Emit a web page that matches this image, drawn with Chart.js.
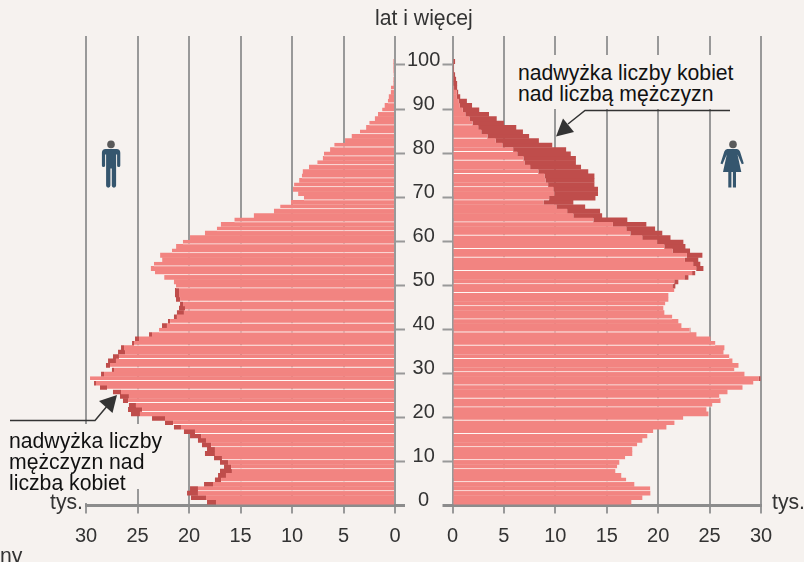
<!DOCTYPE html>
<html lang="pl">
<head>
<meta charset="utf-8">
<title>Ludność według wieku</title>
<script src="https://cdn.jsdelivr.net/npm/chart.js@4"></script>
<style>
  html, body { margin: 0; padding: 0; background: #f6f2ef; }
  #wrap { position: relative; width: 804px; height: 562px; overflow: hidden; font-family: "Liberation Sans", Arial, sans-serif; color: #222; }
  #wrap canvas { position: absolute; left: 0; top: 0; }
  .txt { position: absolute; font-size: 21.2px; line-height: 21px; white-space: pre; background: #f6f2ef; }
  svg { position: absolute; left: 0; top: 0; }
</style>
</head>
<body>
<div id="wrap">
  <canvas id="left" width="804" height="562"></canvas>
  <canvas id="right" width="804" height="562"></canvas>
  <div class="txt" style="left:375px;top:7px;color:#333">lat i więcej</div>
  <div class="txt" style="left:7px;top:424px;padding:6px 2px 0;height:59px;color:#111">nadwyżka liczby
mężczyzn nad
liczbą kobiet</div>
  <div class="txt" style="left:48px;top:491px;padding:0 4px 0 2px;height:12px;line-height:22px;overflow:visible;color:#333">tys.</div>
  <div class="txt" style="left:516px;top:55px;padding:7px 4px 0 2px;height:47px;color:#111">nadwyżka liczby kobiet
nad liczbą mężczyzn</div>
  <div class="txt" style="left:772px;top:491px;background:none;color:#333">tys.</div>
  <div class="txt" style="left:0;top:545px;background:none;color:#333">ny</div>
  <svg width="804" height="562">
    <!-- strzalki -->
    <polyline points="10,420.5 95,420.5 108,405" fill="none" stroke="#333" stroke-width="1.5"/>
    <polygon points="117,395 112.5,413 99,401" fill="#333"/>
    <polyline points="730,110.5 585,110.5 568,124" fill="none" stroke="#333" stroke-width="1.5"/>
    <polygon points="556,136.5 563,118.5 574,132" fill="#333"/>
    <!-- mezczyzna -->
    <circle cx="111" cy="144.4" r="3.8" fill="#5a5a5a"/>
    <path d="M105.500 149h11q3.800 0 3.800 3.800v12.700a1.600 1.600 0 0 1-3.200 0v-11h-1v31a2.100 2.100 0 0 1-4.300 0v-17h-1.400v17a2.100 2.100 0 0 1-4.300 0v-31h-1v11a1.600 1.600 0 0 1-3.200 0v-12.700q0-3.800 3.800-3.800z" fill="#35566e"/>
    <!-- kobieta -->
    <circle cx="733" cy="144.4" r="3.800" fill="#5a5a5a"/>
    <path d="M729 149h8q2 0 3 2.500l3.800 12-2 .8-4.300-9.800 3.800 17.500h-5.300v15.500h-3.100v-15.500h-1.500v15.500h-3.100v-15.500h-5.300l3.800-17.500-4.300 9.800-2-.8 3.800-12q1-2.500 3-2.500z" fill="#35566e"/>
  </svg>
</div>
<script>
// wiek 0..100 (tys.)
const ages = Array.from({length: 101}, (_, i) => i);

const menAll = [
  18.25,19.81,20.19,19.9,18.54,17.48,17.18,16.99,16.6,16.99,
  17.57,18.45,18.25,18.74,19.13,19.9,20.49,21.46,22.33,23.59,
  25.63,25.92,25.83,26.41,26.7,27.38,28.64,29.22,29.61,28.54,
  27.48,28.06,27.86,27.38,26.89,26.6,25.53,25.24,23.88,22.91,
  22.62,22.04,21.46,21.17,20.97,20.87,21.26,21.36,21.36,21.26,
  21.46,22.4,23.3,23.7,23.4,22.6,22.8,21.65,21.25,20.6,
  19.9,18.45,17.3,16.9,15.6,13.7,11.75,11.15,10.1,8.85,
  9.4,9.9,9.8,9.3,9.05,8.95,8.35,7.55,7.0,6.9,
  6.3,5.9,4.85,4.2,3.4,2.8,2.5,1.95,1.65,1.25,
  1.0,0.7,0.6,0.4,0.4,0.15,0.15,0.15,0.15,0.15,0.15
];
// czesc wspolna po lewej (reszta to nadwyzka mezczyzn)
const menCommon = [
  17.38,18.35,19.13,19.13,17.67,16.89,16.41,15.83,15.92,16.21,
  16.8,17.48,17.48,17.86,18.35,18.83,19.42,20.78,21.55,22.33,
  24.76,24.56,25.15,25.92,25.83,26.6,27.96,29.03,29.61,28.25,
  27.28,27.67,27.09,26.8,26.21,26.31,25.34,24.85,23.59,22.91,
  22.14,21.84,21.17,20.49,20.39,20.58,20.87,20.97,20.97,21.26,
  21.46,22.4,23.3,23.7,23.4,22.6,22.8,21.65,21.25,20.6,
  19.9,18.45,17.3,16.9,15.6,13.7,11.75,11.15,10.1,8.85,
  9.4,9.9,9.8,9.3,9.05,8.95,8.35,7.55,7.0,6.9,
  6.3,5.9,4.85,4.2,3.4,2.8,2.5,1.95,1.65,1.25,
  1.0,0.7,0.6,0.4,0.4,0.15,0.15,0.15,0.15,0.15,0.15
];
const womenAll = [
  17.39,18.46,19.24,19.24,17.68,16.9,16.41,15.83,16.02,16.22,
  16.8,17.48,17.48,17.97,18.46,18.94,19.53,20.8,21.58,22.45,
  24.89,24.69,25.28,26.06,25.96,26.74,28.2,29.27,29.95,28.39,
  27.42,27.81,27.22,26.93,26.35,26.44,25.57,25.08,23.72,23.13,
  22.26,21.96,21.38,20.6,20.5,20.7,20.99,20.99,21.58,21.67,
  21.96,22.94,23.6,24.4,24.1,23.9,24.3,23.1,22.65,22.45,
  21.2,20.4,19.7,18.85,17.0,14.55,14.35,12.9,11.75,13.9,
  14.15,14.15,13.8,13.8,13.8,13.2,12.5,12.0,12.0,11.5,
  11.05,9.7,8.4,7.45,6.85,6.2,5.0,4.3,3.55,2.6,
  1.9,1.4,0.75,0.55,0.45,0.45,0.35,0.25,0.15,0.15,0.25
];
// czesc wspolna po prawej (reszta to nadwyzka kobiet)
const womenCommon = [
  17.39,18.46,19.24,19.24,17.68,16.9,16.41,15.83,16.02,16.22,
  16.8,17.48,17.48,17.97,18.46,18.94,19.53,20.8,21.58,22.45,
  24.89,24.69,25.28,26.06,25.96,26.74,28.2,29.27,29.76,28.39,
  27.42,27.81,27.22,26.93,26.35,26.44,25.57,25.08,23.72,23.07,
  22.26,21.96,21.38,20.6,20.5,20.7,20.99,20.99,21.58,21.38,
  21.57,22.55,23.3,23.7,23.4,22.6,22.8,21.4,20.6,19.9,
  18.45,17.3,16.9,15.6,13.7,11.75,11.15,10.1,8.85,9.4,
  9.9,9.8,9.3,9.05,8.95,8.35,7.55,7.0,6.9,6.3,
  5.9,4.85,4.2,3.4,2.8,2.5,1.95,1.65,1.25,1.0,
  0.7,0.6,0.4,0.4,0.15,0.1,0.1,0.1,0.1,0.1,0.1
];

const xTicks = [0, 5, 10, 15, 20, 25, 30];
// pod ktorymi paskami jest przerwa
const gapsLeft = [3,5,8,10,13,16,18,21,23,26,28,31,33,36,39,41,44,46,49,52,54,57,59,62,64,67,69,72,74,77,79,81,84,86,89,91,94,97];
const gapsRight = [3,5,8,10,13,16,19,22,24,27,30,33,36,39,42,45,48,50,53,56,58,61,64,69,72,75,78,80,83,86];

const PINK = '#f28481', DARK = '#bf4d4b', GRID = '#999999', AXIS = '#8c8c8c', INK = '#333333';
const GAP_COLOR = '#fff8f5';
const BAR_SHIFT = 0.8;   // pasek siedzi troche nad kreska wieku
const Y_TOP = 106.58;

function rows(values) {
  return ages.map((a, i) => ({x: values[i], y: a + BAR_SHIFT}));
}
function excess(common, all) {
  return ages.map((a, i) => ({x: [common[i], all[i]], y: a + BAR_SHIFT}));
}
function isZero(c) {
  return c.tick && c.tick.value === 0;
}

function pyramid(id, opts) {
  return new Chart(document.getElementById(id), {
    type: 'bar',
    data: {
      datasets: [
        {
          data: rows(opts.common),
          backgroundColor: PINK,
          borderColor: GAP_COLOR,
          borderSkipped: false,
          borderWidth: ctx => opts.gaps.includes(ctx.dataIndex) ? {bottom: 1} : 0
        },
        {data: excess(opts.common, opts.all), backgroundColor: DARK, borderWidth: 0}
      ]
    },
    options: {
      indexAxis: 'y',
      responsive: false,
      animation: false,
      events: [],
      grouped: false,
      barPercentage: 1.1,
      categoryPercentage: 1,
      layout: {padding: opts.padding},
      plugins: {legend: {display: false}, tooltip: {enabled: false}},
      scales: {
        x: {
          type: 'linear',
          reverse: opts.reverse,
          min: 0, max: 30,
          afterFit: s => { s.height = 56.5; },
          afterBuildTicks: s => { s.ticks = xTicks.map(v => ({value: v})); },
          border: {display: true, color: AXIS, width: 3},
          grid: {color: GRID, lineWidth: 2, tickLength: 8, tickColor: GRID, tickWidth: 2},
          ticks: {color: INK, font: {family: '"Liberation Sans"', size: 20}, padding: 11, maxRotation: 0}
        },
        y: {
          type: 'linear',
          position: opts.yPos,
          offset: false,
          min: 0, max: Y_TOP,
          afterFit: s => { s.width = opts.yWidth; },
          border: {display: false},
          grid: {
            offset: false,
            drawOnChartArea: false,
            tickLength: 10,
            tickColor: c => isZero(c) ? AXIS : GRID,
            tickWidth: c => isZero(c) ? 3 : 2
          },
          ticks: {
            stepSize: 10,
            includeBounds: false,
            autoSkip: false,
            display: opts.labels,
            crossAlign: 'center',
            labelOffset: -5,
            padding: 2,
            color: INK,
            font: {family: '"Liberation Sans"', size: 20},
            callback: v => v <= 100 ? String(v) : ''
          }
        }
      }
    }
  });
}

pyramid('left', {
  common: menCommon, all: menAll, gaps: gapsLeft, reverse: true,
  yPos: 'right', yWidth: 50, labels: true,
  padding: {left: 86, right: 359, top: 36, bottom: 0}
});
pyramid('right', {
  common: womenCommon, all: womenAll, gaps: gapsRight, reverse: false,
  yPos: 'left', yWidth: 10, labels: false,
  padding: {left: 442.5, right: 43, top: 36, bottom: 0}
});
</script>
</body>
</html>
